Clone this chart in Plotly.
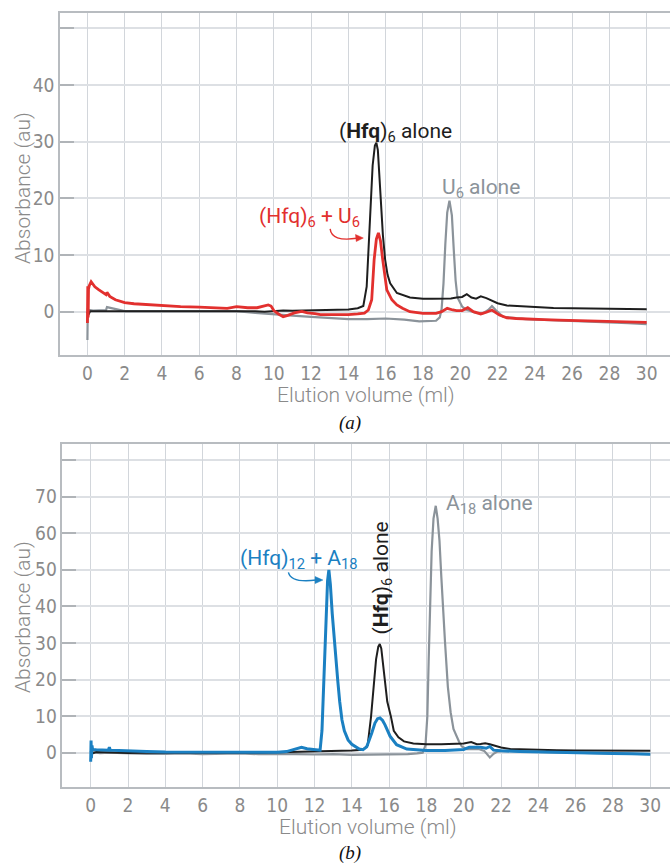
import plotly.graph_objects as go

# ---------------- Panel (a) data ----------------
a_hfq_x = [0, 0.05, 0.15, 0.5, 1, 2, 3, 4, 5, 6, 7, 8, 9, 9.5, 10, 10.5, 11, 11.5, 12, 12.5, 13, 13.5, 14,
           14.5, 14.8, 14.98, 15.07, 15.2, 15.3, 15.42, 15.5, 15.58, 15.65, 15.73, 15.85, 15.97, 16.1, 16.24,
           16.6, 17.3, 18, 18.5, 19, 19.5, 19.8, 20.1, 20.35, 20.6, 20.85, 21.1, 21.4, 21.7, 22, 22.5, 23,
           23.5, 24, 25, 26, 27, 28, 29, 30]
a_hfq_y = [0, -0.6, 0.1, 0.1, 0.15, 0.1, 0.05, 0.1, 0.05, 0.1, 0.1, 0.15, 0.1, 0.0, 0.1, 0.2, 0.15, 0.2, 0.2,
           0.3, 0.25, 0.3, 0.4, 0.6, 1.0, 4.4, 11, 19.8, 25.8, 29.3, 29.8, 28.5, 24, 19.8, 13.5, 9.2, 6.5, 5.0,
           3.3, 2.5, 2.3, 2.3, 2.3, 2.35, 2.5, 2.6, 3.1, 2.5, 2.3, 2.7, 2.4, 1.9, 1.5, 1.1, 1.0, 0.9, 0.75,
           0.65, 0.6, 0.55, 0.5, 0.5, 0.45]

a_mix_x = [0, 0.02, 0.04, 0.06, 0.1, 0.2, 0.3, 0.4, 0.6, 0.75, 0.9, 1.0, 1.05, 1.2, 1.5, 2, 2.5, 3, 4, 5, 6, 7,
           7.5, 8, 8.3, 8.6, 9.1, 9.5, 9.7, 9.85, 10.0, 10.25, 10.5, 10.75, 11.1, 11.5, 11.8, 12.2, 12.5, 13,
           13.5, 14, 14.5, 14.86, 15.07, 15.25, 15.38, 15.5, 15.61, 15.72, 15.84, 15.95, 16.06, 16.33, 16.6,
           16.9, 17.3, 18, 18.7, 19.0, 19.3, 19.6, 19.8, 20.1, 20.4, 20.7, 21.1, 21.4, 21.7, 22.1, 22.5, 23,
           23.5, 24.5, 25.3, 26.2, 27.1, 28, 28.9, 30]
a_mix_y = [-2.0, 4.5, -1.0, 4.0, 4.6, 5.3, 4.8, 4.4, 3.9, 3.55, 3.2, 3.0, 3.4, 2.7, 2.1, 1.6, 1.4, 1.3, 1.0,
           0.9, 0.8, 0.7, 0.6, 0.9, 0.8, 0.7, 0.7, 1.0, 1.2, 1.0, 0.2, -0.4, -0.9, -0.65, -0.2, 0.06, -0.2,
           -0.35, -0.5, -0.5, -0.55, -0.5, -0.4, -0.25, 0.3, 2.1, 9.2, 12.8, 13.9, 12.5, 9.2, 6.0, 3.85, 2.1,
           1.2, 0.6, 0.0, -0.3, -0.3, 0.0, 0.6, 0.3, 0.2, 0.2, 0.7, 0.0, -0.4, -0.1, 0.3, -0.6, -1.07, -1.2,
           -1.3, -1.4, -1.5, -1.55, -1.65, -1.7, -1.8, -1.9]

a_u6_x = [0, 0.02, 0.05, 0.1, 0.3, 1, 1.05, 2, 3, 4, 5, 6, 7, 8, 9, 10, 11, 12, 13, 14, 15, 16, 17, 17.8,
          18.7, 18.9, 19.0, 19.1, 19.2, 19.3, 19.42, 19.55, 19.65, 19.75, 19.85, 20.0, 20.1, 20.3, 20.6,
          20.85, 21.2, 21.5, 21.7, 21.9, 22.3, 22.8, 23.5, 24.5, 25.5, 26.2, 27, 28, 29, 30]
a_u6_y = [-5.0, 0.6, 0.0, 0.3, 0.2, 0.3, 0.8, 0.1, 0.1, 0.0, 0.05, 0.0, 0.0, 0.1, -0.2, -0.5, -0.7, -0.9,
          -1.05, -1.3, -1.3, -1.2, -1.4, -1.7, -1.6, -1.0, 0.5, 5, 12, 17.5, 19.6, 17, 11, 5.5, 2.5, 1.5,
          0.9, 0.4, 0.0, -0.2, -0.3, 0.3, 1.0, 0.3, -0.9, -1.1, -1.3, -1.45, -1.55, -1.65, -1.75, -1.9,
          -2.0, -2.2]

# ---------------- Panel (b) data ----------------
b_hfq_x = [0, 0.05, 0.3, 1, 2, 3, 4, 5, 6, 7, 8, 9, 10, 10.5, 11, 11.5, 12, 12.5, 13, 13.5, 14, 14.6, 14.85,
           15.03, 15.19, 15.3, 15.42, 15.5, 15.58, 15.76, 15.9, 16.1, 16.25, 16.5, 16.8, 17.3, 18, 18.8,
           19.5, 20, 20.4, 20.7, 20.9, 21.15, 21.4, 21.7, 22, 22.5, 23, 24, 25, 26, 27, 28, 29, 30]
b_hfq_y = [0.5, -0.3, 0.2, 0.0, -0.1, 0.0, -0.1, 0.0, 0.0, -0.1, 0.0, 0.0, 0.1, 0.2, 0.15, 0.2, 0.3, 0.35,
           0.4, 0.5, 0.6, 0.8, 2.0, 9.8, 19.9, 25.5, 29.0, 29.7, 28.5, 19.9, 14.0, 9.8, 6.0, 4.2, 3.1, 2.5,
           2.3, 2.3, 2.35, 2.5, 2.9, 2.3, 2.4, 2.6, 2.3, 1.9, 1.4, 1.0, 0.9, 0.75, 0.65, 0.6, 0.55, 0.5,
           0.5, 0.5]

b_mix_x = [0, 0.02, 0.04, 0.07, 0.1, 0.3, 0.6, 0.95, 1.0, 1.05, 1.5, 2, 3, 4, 5, 6, 7, 8, 9, 10, 10.5, 10.8,
           11.0, 11.3, 11.6, 12.0, 12.3, 12.4, 12.5, 12.6, 12.7, 12.77, 12.85, 12.95, 13.05, 13.15, 13.25,
           13.35, 13.47, 13.6, 13.8, 14.0, 14.15, 14.4, 14.6, 14.8, 15.07, 15.24, 15.38, 15.51, 15.65,
           15.78, 16.05, 16.4, 16.95, 17.5, 18, 19, 20, 20.3, 20.6, 20.9, 21.2, 21.4, 21.6, 22, 23, 24, 25,
           26, 27, 28, 29, 30]
b_mix_y = [-2.5, 3.3, -1.5, 2.0, 0.9, 0.8, 0.7, 0.7, 1.5, 0.7, 0.6, 0.45, 0.35, 0.2, 0.15, 0.1, 0.1, 0.05,
           0.1, 0.1, 0.3, 0.7, 1.0, 1.5, 1.1, 0.9, 0.7, 6.0, 20, 36, 47, 50, 46, 38, 31, 25, 19.5, 14, 9.0,
           6.0, 3.5, 2.3, 1.8, 1.0, 0.8, 1.6, 5.4, 8.1, 9.3, 9.5, 8.8, 7.6, 4.5, 2.2, 1.0, 0.7, 0.6, 0.6, 0.9,
           1.5, 1.6, 1.5, 1.2, 1.7, 0.7, 0.5, 0.35, 0.2, 0.1, 0.0, -0.1, -0.2, -0.3, -0.4]

b_a18_x = [0, 0.5, 1, 2, 3, 4, 5, 6, 7, 8, 9, 10, 11, 12, 13, 14, 15, 16, 17, 17.5, 17.8, 17.95, 18.05,
           18.12, 18.2, 18.28, 18.38, 18.5, 18.6, 18.7, 18.8, 18.9, 19.0, 19.15, 19.3, 19.45, 19.6, 19.75,
           19.9, 20.15, 20.4, 20.8, 21.1, 21.25, 21.4, 21.6, 21.8, 22.1, 23, 24, 25, 26, 27, 28, 29, 30]
b_a18_y = [0.2, -0.1, 0.0, -0.2, -0.3, -0.3, -0.2, -0.4, -0.3, -0.2, -0.4, -0.3, -0.4, -0.5, -0.4, -0.6,
           -0.5, -0.6, -0.4, -0.2, 0.0, 2, 10, 25, 42, 55, 64, 67.5, 64, 58, 48, 38, 30, 18, 11, 6.5, 4.5,
           3.0, 1.7, 1.0, 1.0, 1.0, 0.5, -0.3, -1.3, -0.3, 0.3, 0.5, 0.3, 0.2, 0.1, 0.0, -0.1, -0.2, -0.3,
           -0.4]

x_ticks = list(range(0, 31, 2))
a_y_ticks = [0, 10, 20, 30, 40]
a_y_unlabelled = [50]
b_y_ticks = [0, 10, 20, 30, 40, 50, 60, 70]
b_y_unlabelled = [80]

# ---------------- Styling ----------------
W, H = 670, 864
BLACK = "#1e1e1e"
RED = "#e2302e"
GRAY = "#8b939a"
BLUE = "#1b80c2"
TXT_GRAY = "#8a8a8a"
TICK_FONT = dict(family="Liberation Sans Narrow, DejaVu Sans Condensed, Arial Narrow, sans-serif",
                 size=19, color=TXT_GRAY)
TITLE_FONT = dict(family="Roboto, Liberation Sans, sans-serif", size=21, color=TXT_GRAY, weight=300)
ANN_FONT = "Roboto, Liberation Sans, sans-serif"

fig = go.Figure()

def add(x, y, color, width, xa, ya):
    fig.add_trace(go.Scatter(x=x, y=y, mode="lines", line=dict(color=color, width=width),
                             xaxis=xa, yaxis=ya, showlegend=False, hoverinfo="skip"))

add(a_u6_x, a_u6_y, GRAY, 2.2, "x", "y")
add(a_hfq_x, a_hfq_y, BLACK, 2.0, "x", "y")
add(a_mix_x, a_mix_y, RED, 2.8, "x", "y")
add(b_a18_x, b_a18_y, GRAY, 2.2, "x2", "y2")
add(b_hfq_x, b_hfq_y, BLACK, 2.0, "x2", "y2")
add(b_mix_x, b_mix_y, BLUE, 3.0, "x2", "y2")

GRID_H = "#dde0e4"
TICKC = "#b0b4b8"
xcommon = dict(tickvals=x_ticks, showgrid=True, gridcolor="#d2d6db", gridwidth=1.2,
               showline=True, linecolor="#b8bcc0", linewidth=1.5, mirror=True, ticks="",
               tickfont=TICK_FONT, zeroline=False)
ycommon = dict(showgrid=True, gridcolor=GRID_H, gridwidth=2.2, showline=True, linecolor="#b8bcc0",
               linewidth=1.5, ticks="inside", ticklen=14, tickwidth=2, tickcolor=TICKC,
               tickfont=TICK_FONT, zeroline=False)

def minor(vals):
    return dict(tickvals=vals, showgrid=True, gridcolor=GRID_H, gridwidth=2.2,
                ticks="inside", ticklen=14, tickwidth=2, tickcolor=TICKC)

fig.update_layout(
    width=W, height=H, margin=dict(l=0, r=0, t=0, b=0),
    paper_bgcolor="white", plot_bgcolor="white", showlegend=False,
    xaxis=dict(domain=[60 / W, 1], anchor="y", range=[-1.47, 31.25], **xcommon),
    yaxis=dict(domain=[1 - 355 / H, 1 - 13 / H], anchor="x", range=[-7.64, 52.7],
               tickvals=a_y_ticks, minor=minor(a_y_unlabelled), **ycommon),
    xaxis2=dict(domain=[62.4 / W, 1], anchor="y2", range=[-1.517, 31.06], **xcommon),
    yaxis2=dict(domain=[1 - 787 / H, 1 - 444 / H], anchor="x2", range=[-9.38, 84.4],
                tickvals=b_y_ticks, minor=minor(b_y_unlabelled), **ycommon),
)

def paper_text(text, px, py, font, angle=0):
    fig.add_annotation(text=text, x=px / W, y=1 - py / H, xref="paper", yref="paper",
                       showarrow=False, font=font, textangle=angle, xanchor="center", yanchor="middle")

# axis titles and panel labels
paper_text("Absorbance (au)", 23, 188, TITLE_FONT, -90)
paper_text("Absorbance (au)", 23, 617, TITLE_FONT, -90)
paper_text("Elution volume (ml)", 366, 395, TITLE_FONT)
paper_text("Elution volume (ml)", 368, 827, TITLE_FONT)
SERIF = dict(family="Liberation Serif, DejaVu Serif, serif", size=19, color="#111111")
paper_text("<i>(a)</i>", 350, 423, SERIF)
paper_text("<i>(b)</i>", 350, 853, SERIF)

# curve labels
def label(text, x, y, color, xa, ya, size=21, angle=0, xanchor="left"):
    fig.add_annotation(text=text, x=x, y=y, xref=xa, yref=ya, showarrow=False,
                       font=dict(family=ANN_FONT, size=size, color=color), textangle=angle,
                       xanchor=xanchor, yanchor="middle")

label("(<b>Hfq</b>)<sub>6</sub> alone", 13.4, 31.6, BLACK, "x", "y")
label("U<sub>6</sub> alone", 18.9, 21.8, GRAY, "x", "y")
label("(Hfq)<sub>6</sub> + U<sub>6</sub>", 9.1, 16.6, RED, "x", "y")
label("(Hfq)<sub>12</sub> + A<sub>18</sub>", 7.9, 52.8, BLUE, "x2", "y2")
label("A<sub>18</sub> alone", 18.95, 67.8, GRAY, "x2", "y2")
label("(<b>Hfq</b>)<sub>6</sub> alone", 15.65, 47.8, BLACK, "x2", "y2", angle=-90, xanchor="center")

# curved pointer arrows (decoration)
fig.add_shape(type="path", path="M 13.02,14.6 Q 13.1,12.3 14.45,12.95", xref="x", yref="y",
              line=dict(color=RED, width=1.4))
fig.add_shape(type="path", path="M 14.8,13.0 L 14.38,13.62 L 14.42,12.38 Z", xref="x", yref="y",
              line=dict(color=RED, width=0.5), fillcolor=RED)
fig.add_shape(type="path", path="M 10.6,49.3 Q 10.75,46.3 12.1,47.2", xref="x2", yref="y2",
              line=dict(color=BLUE, width=1.4))
fig.add_shape(type="path", path="M 12.45,47.2 L 12.03,48.16 L 12.03,46.24 Z", xref="x2", yref="y2",
              line=dict(color=BLUE, width=0.5), fillcolor=BLUE)

fig.write_html(
    "out.html",
    config={"displayModeBar": False},
    post_script="document.body.style.margin='0';document.body.style.padding='0';"
                "document.body.style.overflow='hidden';",
)
